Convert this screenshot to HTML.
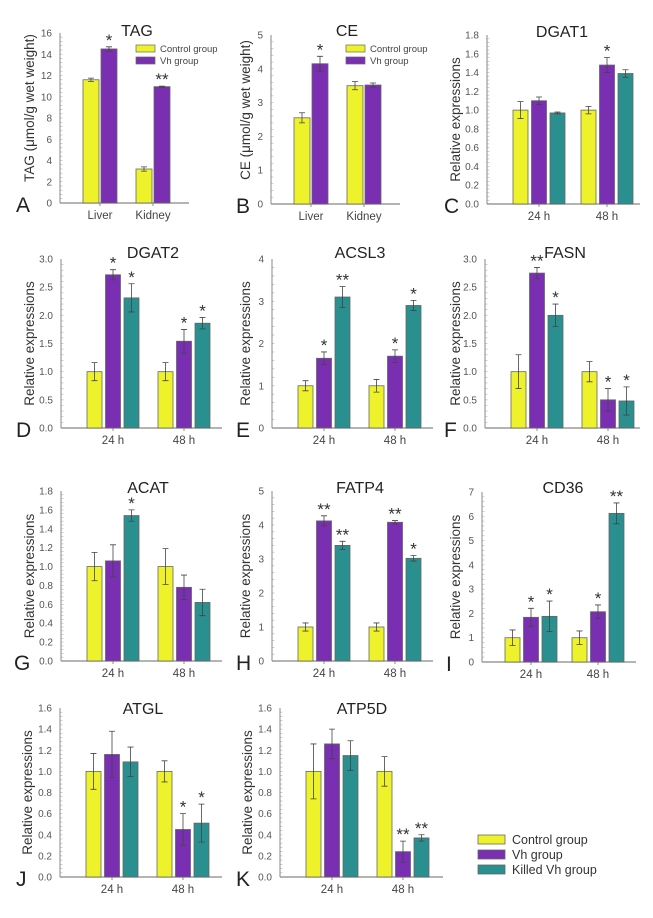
<!DOCTYPE html>
<html><head><meta charset="utf-8">
<style>
html,body{margin:0;padding:0;background:#fff;}
svg{display:block;font-family:"Liberation Sans",Arial,sans-serif;}
</style></head>
<body>
<svg id="fig" width="653" height="918" viewBox="0 0 653 918" xmlns="http://www.w3.org/2000/svg"></svg>
<script>
// ---- data ----
const groupsTissue = ["Liver","Kidney"];
const groupsTime = ["24 h","48 h"];
const seriesNames3 = ["Control group","Vh group","Killed Vh group"];
const colors = ["#eef22a","#7a2fb3","#2a8f8f"];

const tagValues = [[11.6,14.5],[3.2,10.95]];
const tagErr = [[0.15,0.2],[0.2,0.05]];
const tagSig = [["","*"],["","**"]];

const ceValues = [[2.55,4.15],[3.5,3.52]];
const ceErr = [[0.15,0.22],[0.12,0.06]];
const ceSig = [["","*"],["",""]];

const dgat1Values = [[1.0,1.1,0.97],[1.0,1.48,1.39]];
const dgat1Err = [[0.09,0.04,0.01],[0.04,0.08,0.04]];
const dgat1Sig = [["","",""],["","*",""]];

const dgat2Values = [[1.0,2.72,2.31],[1.0,1.54,1.86]];
const dgat2Err = [[0.16,0.09,0.25],[0.16,0.21,0.1]];
const dgat2Sig = [["","*","*"],["","*","*"]];

const acsl3Values = [[1.0,1.65,3.1],[1.0,1.7,2.9]];
const acsl3Err = [[0.12,0.15,0.25],[0.15,0.15,0.12]];
const acsl3Sig = [["","*","**"],["","*","*"]];

const fasnValues = [[1.0,2.75,2.0],[1.0,0.5,0.48]];
const fasnErr = [[0.3,0.1,0.2],[0.18,0.2,0.25]];
const fasnSig = [["","**","*"],["","*","*"]];

const acatValues = [[1.0,1.06,1.54],[1.0,0.78,0.62]];
const acatErr = [[0.15,0.17,0.06],[0.19,0.13,0.14]];
const acatSig = [["","","*"],["","",""]];

const fatp4Values = [[1.0,4.12,3.4],[1.0,4.08,3.02]];
const fatp4Err = [[0.12,0.15,0.12],[0.12,0.05,0.08]];
const fatp4Sig = [["","**","**"],["","**","*"]];

const cd36Values = [[1.0,1.84,1.88],[1.0,2.07,6.12]];
const cd36Err = [[0.32,0.37,0.63],[0.28,0.28,0.43]];
const cd36Sig = [["","*","*"],["","*","**"]];

const atglValues = [[1.0,1.16,1.09],[1.0,0.45,0.51]];
const atglErr = [[0.17,0.22,0.14],[0.1,0.15,0.18]];
const atglSig = [["","",""],["","*","*"]];

const atp5dValues = [[1.0,1.26,1.15],[1.0,0.24,0.37]];
const atp5dErr = [[0.26,0.14,0.14],[0.14,0.1,0.03]];
const atp5dSig = [["","",""],["","**","**"]];

const NS="http://www.w3.org/2000/svg";
const svg=document.getElementById('fig');
function mk(tag,attrs,parent){const e=document.createElementNS(NS,tag);for(const k in attrs)e.setAttribute(k,attrs[k]);(parent||svg).appendChild(e);return e;}

function panel(o){
  const g=mk('g',{});
  
  
  const {x0,x1,y0,y1,max,step,dec,cats,vals,errs,sigs,centers,bw,gap}=o;
  const ys=v=>y1-(v/max)*(y1-y0);
  const nMinor=Math.round(max/step)*5;
  for(let i=1;i<nMinor;i++){const yy=y1-(i/nMinor)*(y1-y0);const t=mk('line',{x1:x0,x2:x0+2.5,y1:yy,y2:yy,stroke:'#bbb','stroke-width':0.7},g);}
  const ya=mk('line',{x1:x0,x2:x0,y1:y0,y2:y1,stroke:'#888','stroke-width':1},g);
  
  const xa=mk('line',{x1:x0,x2:x1,y1:y1,y2:y1,stroke:'#888','stroke-width':1.2},g);
  
  const nT=Math.round(max/step);
  for(let i=0;i<=nT;i++){const v=i*step;const yy=ys(v);
    const t=mk('text',{x:x0-8,y:yy+3.5,'text-anchor':'end','font-size':10,fill:'#555'},g);t.textContent=v.toFixed(dec);
    }
  cats.forEach((c,ci)=>{
    const n=vals[ci].length;
    const tk=mk('line',{x1:centers[ci],x2:centers[ci],y1:y1,y2:y1+3,stroke:'#888'},g);
    
    const lb=mk('text',{x:centers[ci],y:y1+16,'text-anchor':'middle','font-size':11.5,fill:'#444'},g);lb.textContent=c;
    
    vals[ci].forEach((v,si)=>{
      const cx=centers[ci]+(si-(n-1)/2)*(bw+gap);
      const r=mk('rect',{x:cx-bw/2,y:ys(v),width:bw,height:y1-ys(v),fill:colors[si],stroke:'#666','stroke-width':0.8},g);
      
      const e=errs[ci][si];const top=ys(v+e),bot=ys(v-e);
      const el=mk('path',{d:`M${cx},${top}V${bot}M${cx-3},${top}H${cx+3}M${cx-3},${bot}H${cx+3}`,stroke:'#444','stroke-width':0.8,fill:'none'},g);
      
      if(sigs[ci][si]){const s=mk('text',{x:cx,y:top-1,'text-anchor':'middle','font-size':17,fill:'#333'},g);s.textContent=sigs[ci][si];
        }
    });
  });
  const tt=mk('text',{x:o.tx,y:o.ty,'text-anchor':'middle','font-size':16,fill:'#222'},g);tt.textContent=o.title;
  
  const yc=o.yc!==undefined?o.yc:(y0+y1)/2;
  const yt=mk('text',{x:0,y:0,'text-anchor':'middle','font-size':13.5,fill:'#333',transform:`translate(${o.yx},${yc}) rotate(-90)`},g);yt.textContent=o.ytitle;
  
  const lt=mk('text',{x:o.lx,y:y1+9,'font-size':21,fill:'#222'},g);lt.textContent=o.letter;
  
  if(o.legend){o.legend.forEach((nm,i)=>{
    const r=mk('rect',{x:o.lgx,y:o.lgy+i*12,width:19,height:7,fill:colors[i],stroke:'#666','stroke-width':0.7},g);
    
    const t=mk('text',{x:o.lgx+24,y:o.lgy+i*12+7,'font-size':9.5,fill:'#444'},g);t.textContent=nm;
    });}
}
const YT='Relative expressions';
const c3=(x0)=>[x0+52,x0+123];
const cols=[[61,222],[272,433],[485,640]];
const b3={bw:15,gap:3.5};

panel({id:'tag',title:'TAG',tx:137,ty:36,x0:60,x1:189,y0:33,y1:203,max:16,step:2,dec:0,cats:groupsTissue,vals:tagValues,errs:tagErr,sigs:tagSig,centers:[100,153],bw:16,gap:2,ytitle:'TAG (μmol/g wet weight)',yx:34,yc:108,letter:'A',lx:16,legend:seriesNames3.slice(0,2),lgx:136,lgy:45});
panel({id:'ce',title:'CE',tx:347,ty:36,x0:271,x1:400,y0:35,y1:204,max:5,step:1,dec:0,cats:groupsTissue,vals:ceValues,errs:ceErr,sigs:ceSig,centers:[311,364],bw:16,gap:2,ytitle:'CE (μmol/g wet weight)',yx:250,yc:110,letter:'B',lx:236,legend:seriesNames3.slice(0,2),lgx:346,lgy:45});
panel({id:'dgat1',title:'DGAT1',tx:562,ty:37,x0:487,x1:640,y0:35,y1:204,max:1.8,step:0.2,dec:1,cats:groupsTime,vals:dgat1Values,errs:dgat1Err,sigs:dgat1Sig,centers:[539,607],...b3,ytitle:YT,yx:460,letter:'C',lx:444});

panel({id:'dgat2',title:'DGAT2',tx:153,ty:258,x0:cols[0][0],x1:cols[0][1],y0:259,y1:428,max:3,step:0.5,dec:1,cats:groupsTime,vals:dgat2Values,errs:dgat2Err,sigs:dgat2Sig,centers:c3(cols[0][0]),...b3,ytitle:YT,yx:34,letter:'D',lx:16});
panel({id:'acsl3',title:'ACSL3',tx:360,ty:258,x0:cols[1][0],x1:cols[1][1],y0:259,y1:428,max:4,step:1,dec:0,cats:groupsTime,vals:acsl3Values,errs:acsl3Err,sigs:acsl3Sig,centers:c3(cols[1][0]),...b3,ytitle:YT,yx:250,letter:'E',lx:236});
panel({id:'fasn',title:'FASN',tx:565,ty:258,x0:cols[2][0],x1:cols[2][1],y0:259,y1:428,max:3,step:0.5,dec:1,cats:groupsTime,vals:fasnValues,errs:fasnErr,sigs:fasnSig,centers:c3(cols[2][0]),...b3,ytitle:YT,yx:460,letter:'F',lx:444});

panel({id:'acat',title:'ACAT',tx:148,ty:493,x0:cols[0][0],x1:cols[0][1],y0:491,y1:661,max:1.8,step:0.2,dec:1,cats:groupsTime,vals:acatValues,errs:acatErr,sigs:acatSig,centers:c3(cols[0][0]),...b3,ytitle:YT,yx:34,letter:'G',lx:14});
panel({id:'fatp4',title:'FATP4',tx:360,ty:493,x0:cols[1][0],x1:cols[1][1],y0:491,y1:661,max:5,step:1,dec:0,cats:groupsTime,vals:fatp4Values,errs:fatp4Err,sigs:fatp4Sig,centers:c3(cols[1][0]),...b3,ytitle:YT,yx:250,letter:'H',lx:236});
panel({id:'cd36',title:'CD36',tx:563,ty:493,x0:482,x1:636,y0:492,y1:662,max:7,step:1,dec:0,cats:groupsTime,vals:cd36Values,errs:cd36Err,sigs:cd36Sig,centers:[531,598],...b3,ytitle:YT,yx:460,letter:'I',lx:446});

panel({id:'atgl',title:'ATGL',tx:143,ty:714,x0:60,x1:222,y0:708,y1:877,max:1.6,step:0.2,dec:1,cats:groupsTime,vals:atglValues,errs:atglErr,sigs:atglSig,centers:[112,183],...b3,ytitle:YT,yx:32,letter:'J',lx:16});
panel({id:'atp5d',title:'ATP5D',tx:362,ty:714,x0:280,x1:443,y0:708,y1:877,max:1.6,step:0.2,dec:1,cats:groupsTime,vals:atp5dValues,errs:atp5dErr,sigs:atp5dSig,centers:[332,403],...b3,ytitle:YT,yx:252,letter:'K',lx:236});

const lg=mk('g',{});


seriesNames3.forEach((nm,i)=>{
  const r=mk('rect',{x:478,y:835+i*15,width:27,height:9,fill:colors[i],stroke:'#666','stroke-width':0.8},lg);
  
  
  const t=mk('text',{x:512,y:844+i*15,'font-size':12.5,fill:'#333'},lg);t.textContent=nm;
  
  
});
</script>
</body></html>
